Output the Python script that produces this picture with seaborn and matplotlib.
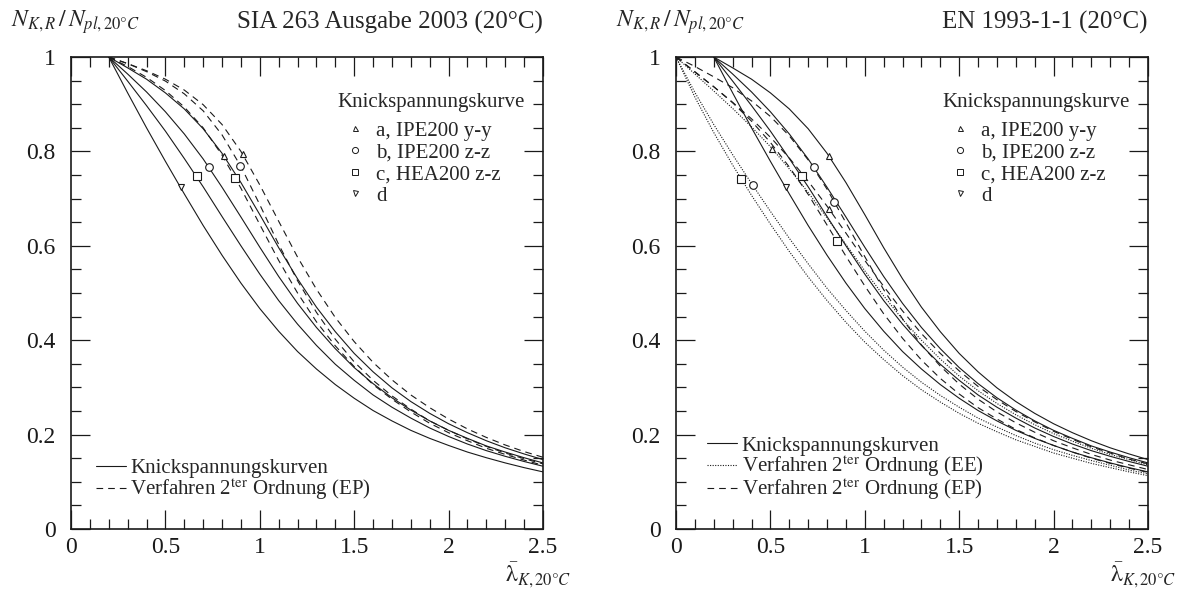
import numpy as np
import matplotlib
matplotlib.use("Agg")
import matplotlib.pyplot as plt
import seaborn as sns
from matplotlib.lines import Line2D
from matplotlib.ticker import MultipleLocator

# Slenderness grids
lam_full = [round(0.1 * i, 1) for i in range(26)]       # 0.0 ... 2.5
lam_k = lam_full[2:]                                     # 0.2 ... 2.5

# Knickspannungskurven a-d (identical in both standards)
chi_a = [1.000, 0.977, 0.953, 0.924, 0.890, 0.848, 0.796, 0.734, 0.666, 0.596, 0.530, 0.470,
         0.418, 0.372, 0.333, 0.299, 0.270, 0.245, 0.223, 0.204, 0.187, 0.172, 0.159, 0.147]
chi_b = [1.000, 0.964, 0.926, 0.884, 0.837, 0.784, 0.724, 0.661, 0.597, 0.535, 0.478, 0.427,
         0.382, 0.342, 0.308, 0.278, 0.252, 0.229, 0.209, 0.192, 0.176, 0.163, 0.151, 0.140]
chi_c = [1.000, 0.949, 0.897, 0.843, 0.785, 0.725, 0.662, 0.600, 0.540, 0.484, 0.434, 0.389,
         0.349, 0.315, 0.284, 0.258, 0.235, 0.214, 0.196, 0.180, 0.166, 0.154, 0.143, 0.133]
chi_d = [1.000, 0.924, 0.850, 0.779, 0.710, 0.643, 0.580, 0.521, 0.467, 0.419, 0.376, 0.339,
         0.306, 0.277, 0.251, 0.229, 0.209, 0.192, 0.177, 0.163, 0.151, 0.140, 0.130, 0.121]

# SIA 263: Verfahren 2. Ordnung (EP)
sia_ep_a = [1.000, 0.986, 0.971, 0.953, 0.930, 0.899, 0.857, 0.800, 0.729, 0.652, 0.576, 0.508,
            0.448, 0.397, 0.353, 0.316, 0.284, 0.257, 0.233, 0.212, 0.194, 0.178, 0.164, 0.152]
sia_ep_b = [1.000, 0.986, 0.969, 0.949, 0.922, 0.886, 0.835, 0.768, 0.687, 0.603, 0.526, 0.459,
            0.402, 0.354, 0.315, 0.282, 0.254, 0.229, 0.209, 0.191, 0.175, 0.161, 0.149, 0.138]
sia_ep_c = [1.000, 0.980, 0.957, 0.929, 0.894, 0.850, 0.792, 0.722, 0.645, 0.569, 0.500, 0.439,
            0.388, 0.344, 0.306, 0.275, 0.248, 0.224, 0.204, 0.187, 0.171, 0.158, 0.146, 0.135]

# EN 1993-1-1: Verfahren 2. Ordnung (EE)
en_ee_a = [1.000, 0.964, 0.928, 0.891, 0.852, 0.810, 0.763, 0.713, 0.659, 0.603, 0.547, 0.494, 0.444,
           0.400, 0.360, 0.324, 0.293, 0.266, 0.242, 0.221, 0.202, 0.186, 0.171, 0.158, 0.147, 0.136]
en_ee_b = [1.000, 0.925, 0.857, 0.793, 0.732, 0.673, 0.616, 0.562, 0.510, 0.463, 0.419, 0.379, 0.343,
           0.311, 0.283, 0.258, 0.235, 0.216, 0.198, 0.182, 0.168, 0.156, 0.145, 0.135, 0.125, 0.117]
en_ee_c = [1.000, 0.915, 0.840, 0.771, 0.707, 0.646, 0.588, 0.534, 0.484, 0.438, 0.396, 0.359, 0.325,
           0.295, 0.269, 0.245, 0.224, 0.206, 0.189, 0.175, 0.161, 0.150, 0.139, 0.130, 0.121, 0.113]

# EN 1993-1-1: Verfahren 2. Ordnung (EP)
en_ep_a = [1.000, 0.968, 0.937, 0.904, 0.869, 0.830, 0.786, 0.737, 0.684, 0.627, 0.569, 0.514, 0.462,
           0.414, 0.372, 0.335, 0.302, 0.274, 0.249, 0.227, 0.207, 0.190, 0.174, 0.161, 0.148, 0.138]
en_ep_b = [1.000, 0.980, 0.958, 0.935, 0.907, 0.874, 0.833, 0.782, 0.720, 0.649, 0.577, 0.507, 0.445,
           0.390, 0.345, 0.307, 0.275, 0.248, 0.225, 0.205, 0.187, 0.172, 0.158, 0.146, 0.136, 0.126]
en_ep_c = [1.000, 0.969, 0.937, 0.903, 0.864, 0.819, 0.767, 0.709, 0.644, 0.578, 0.515, 0.456, 0.404,
           0.358, 0.319, 0.286, 0.257, 0.233, 0.211, 0.193, 0.177, 0.163, 0.150, 0.139, 0.129, 0.120]

# Section markers (curve a, b, c, d)
curve_keys = ["a", "b", "c", "d"]
curve_labels = ["a, IPE200 y-y", "b, IPE200 z-z", "c, HEA200 z-z", "d"]
mk_k_x = [0.81, 0.73, 0.665, 0.58]
mk_k_y = [0.79, 0.767, 0.747, 0.724]
mk_sia_ep_x = [0.909, 0.897, 0.870]
mk_sia_ep_y = [0.794, 0.770, 0.744]
mk_en_ee_x = [0.508, 0.407, 0.345]
mk_en_ee_y = [0.806, 0.728, 0.742]
mk_en_ep_x = [0.808, 0.839, 0.852]
mk_en_ep_y = [0.679, 0.693, 0.610]

sns.set_theme(style="ticks")
plt.rcParams['font.family'] = ['Liberation Serif', 'DejaVu Serif']
plt.rcParams['mathtext.fontset'] = 'stix'

LW = 0.8
DASH = (0, (6, 4.5))
DOT = (0, (1, 1.3))
MK = {"a": ("^", 4.5), "b": ("o", 5.5), "c": ("s", 5.5), "d": ("v", 4.5)}
FS = 17

fig = plt.figure(figsize=(11.87, 5.94), dpi=100)
axL = fig.add_axes([71/1187, 65/594, 472/1187, 472/594])
axR = fig.add_axes([676/1187, 65/594, 472/1187, 472/594])


def line(ax, x, y, ls="-"):
    sns.lineplot(x=x, y=y, ax=ax, color="k", lw=LW, linestyle=ls, legend=False)


def marks(ax, keys, xs, ys):
    for k, x, y in zip(keys, xs, ys):
        ax.plot([x], [y], ls="none", marker=MK[k][0], ms=MK[k][1], mfc="white",
                mec="k", mew=0.8, zorder=5)


for ax in (axL, axR):
    for ys in (chi_a, chi_b, chi_c, chi_d):
        line(ax, lam_k, ys)
    marks(ax, curve_keys, mk_k_x, mk_k_y)

for ys in (sia_ep_a, sia_ep_b, sia_ep_c):
    line(axL, lam_k, ys, DASH)
marks(axL, curve_keys, mk_sia_ep_x, mk_sia_ep_y)

for ys in (en_ee_a, en_ee_b, en_ee_c):
    line(axR, lam_full, ys, DOT)
for ys in (en_ep_a, en_ep_b, en_ep_c):
    line(axR, lam_full, ys, DASH)
marks(axR, curve_keys, mk_en_ee_x, mk_en_ee_y)
marks(axR, curve_keys, mk_en_ep_x, mk_en_ep_y)

for ax in (axL, axR):
    ax.set_xlim(0, 2.5)
    ax.set_ylim(0, 1)
    ax.xaxis.set_minor_locator(MultipleLocator(0.1))
    ax.yaxis.set_minor_locator(MultipleLocator(0.05))
    ax.tick_params(which="both", direction="in", top=True, right=True, width=0.9,
                   labelsize=FS, colors="k")
    ax.tick_params(axis="y", pad=11)
    ax.tick_params(axis="x", pad=6)
    ax.tick_params(which="major", length=14)
    ax.tick_params(which="minor", length=7)
    ax.set_xticks([0, 0.5, 1, 1.5, 2, 2.5])
    ax.set_xticklabels(["0", "0.5", "1", "1.5", "2", "2.5"])
    ax.set_yticks([0, 0.2, 0.4, 0.6, 0.8, 1])
    ax.set_yticklabels(["0", "0.2", "0.4", "0.6", "0.8", "1"])
    for s in ax.spines.values():
        s.set_linewidth(1.2)
        s.set_color("k")
    # marker key with its heading
    ax.text(0.5636, 0.903, "Knickspannungskurve", transform=ax.transAxes,
            ha="left", va="center", fontsize=15)
    handles = [Line2D([], [], ls="none", marker=MK[k][0], ms=MK[k][1] * 0.8, mfc="white",
                      mec="k", mew=0.7) for k in curve_keys]
    lg = ax.legend(handles, curve_labels, loc="upper left", bbox_to_anchor=(0.589, 0.864),
                   frameon=False, fontsize=15, handlelength=0.6, handletextpad=0.7,
                   labelspacing=0.1, borderpad=0, borderaxespad=0)
    ax.add_artist(lg)

axL.legend([Line2D([], [], color="k", lw=LW), Line2D([], [], color="k", lw=LW, linestyle=DASH)],
           ["Knickspannungskurven", "Verfahren 2$^{\\mathrm{ter}}$ Ordnung (EP)"],
           loc="lower left", bbox_to_anchor=(0.053, 0.057), frameon=False, fontsize=15,
           handlelength=1.45, handletextpad=0.2, labelspacing=-0.05, borderpad=0,
           borderaxespad=0)
axR.legend([Line2D([], [], color="k", lw=LW), Line2D([], [], color="k", lw=LW, linestyle=DOT),
            Line2D([], [], color="k", lw=LW, linestyle=DASH)],
           ["Knickspannungskurven", "Verfahren 2$^{\\mathrm{ter}}$ Ordnung (EE)",
            "Verfahren 2$^{\\mathrm{ter}}$ Ordnung (EP)"],
           loc="lower left", bbox_to_anchor=(0.066, 0.057), frameon=False, fontsize=15,
           handlelength=1.45, handletextpad=0.2, labelspacing=-0.1, borderpad=0,
           borderaxespad=0)

for ax, t in ((axL, "SIA 263 Ausgabe 2003 (20°C)"), (axR, "EN 1993-1-1 (20°C)")):
    p = ax.get_position()
    fig.text(p.x1, 1 - 22/594, t, ha="right", va="center", fontsize=18)
    fig.text(p.x0 - 60/1187, 1 - 22/594, r"$N_{K,R}\,/\,N_{pl,\mathit{20°C}}$",
             ha="left", va="center", fontsize=17)
    fig.text(p.x1 - 38/1187, 1 - 575/594, r"$\bar{\mathrm{λ}}_{K,\mathit{20°C}}$",
             ha="left", va="center", fontsize=17)

fig.savefig("out.png", dpi=100)
